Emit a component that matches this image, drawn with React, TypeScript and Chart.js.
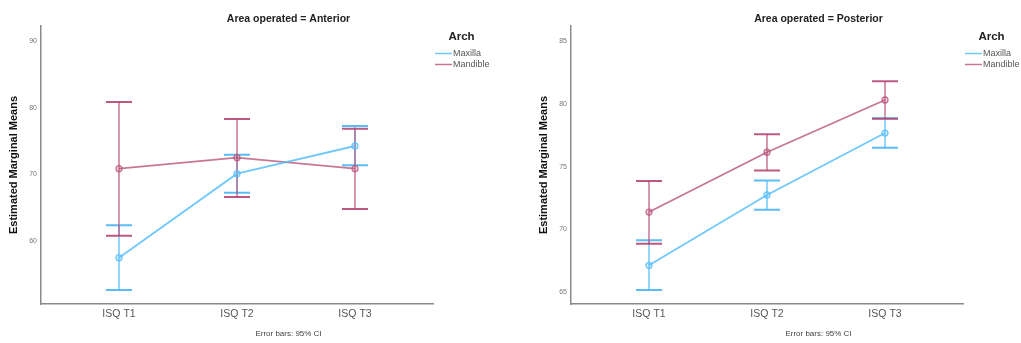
import React, { useEffect, useRef } from "react";
import { Chart, registerables } from "chart.js";

Chart.register(...registerables);

// Repeated-measures time points
const timePoints = ["ISQ T1", "ISQ T2", "ISQ T3"];
const seriesNames = ["Maxilla", "Mandible"];

// Area operated = Anterior
const anteriorMaxillaMean = [57.5, 70.1, 74.25];
const anteriorMaxillaLower = [52.65, 67.25, 71.35];
const anteriorMaxillaUpper = [62.35, 72.95, 77.25];
const anteriorMandibleMean = [70.85, 72.5, 70.85];
const anteriorMandibleLower = [60.8, 66.6, 64.8];
const anteriorMandibleUpper = [80.85, 78.3, 76.85];
const anteriorYTicks = [60, 70, 80, 90];
const anteriorYRange = [50.55, 92.25];

// Area operated = Posterior
const posteriorMaxillaMean = [67.15, 72.75, 77.68];
const posteriorMaxillaLower = [65.18, 71.58, 76.51];
const posteriorMaxillaUpper = [69.14, 73.9, 78.85];
const posteriorMandibleMean = [71.39, 76.15, 80.31];
const posteriorMandibleLower = [68.87, 74.7, 78.82];
const posteriorMandibleUpper = [73.86, 77.58, 81.8];
const posteriorYTicks = [65, 70, 75, 80, 85];
const posteriorYRange = [64.07, 86.2];

const FONT = "Arial, 'Liberation Sans', sans-serif";
const MAXILLA = "rgba(88,190,250,0.85)";
const MAXILLA_CAP = "rgba(80,185,248,0.95)";
const MANDIBLE = "rgba(185,80,120,0.78)";
const MANDIBLE_CAP = "rgba(180,65,110,0.88)";

type PanelProps = {
  title: string;
  width: number;
  plotLeft: number;
  plotRight: number;
  maxilla: number[][];
  mandible: number[][];
  yTicks: number[];
  yRange: number[];
};

function Panel(props: PanelProps) {
  const ref = useRef<HTMLCanvasElement | null>(null);

  useEffect(() => {
    const canvas = ref.current;
    if (!canvas) return;
    const { title, width, plotLeft, plotRight, maxilla, mandible, yTicks, yRange } = props;

    const groups = [
      { mean: maxilla[0], lower: maxilla[1], upper: maxilla[2], line: MAXILLA, cap: MAXILLA_CAP },
      { mean: mandible[0], lower: mandible[1], upper: mandible[2], line: MANDIBLE, cap: MANDIBLE_CAP },
    ];

    // 95% CI whiskers with caps, drawn beneath the mean lines
    const errorBars = {
      id: "errorBars",
      beforeDatasetsDraw(chart: any) {
        const ctx = chart.ctx;
        const xs = chart.scales.x;
        const ys = chart.scales.y;
        ctx.save();
        groups.forEach((g) => {
          g.mean.forEach((_, i) => {
            const x = xs.getPixelForValue(i + 1);
            const yl = ys.getPixelForValue(g.lower[i]);
            const yu = ys.getPixelForValue(g.upper[i]);
            ctx.strokeStyle = g.line;
            ctx.lineWidth = 1.5;
            ctx.beginPath();
            ctx.moveTo(x, yl);
            ctx.lineTo(x, yu);
            ctx.stroke();
            ctx.strokeStyle = g.cap;
            ctx.lineWidth = 2;
            ctx.beginPath();
            ctx.moveTo(x - 13, yl);
            ctx.lineTo(x + 13, yl);
            ctx.moveTo(x - 13, yu);
            ctx.lineTo(x + 13, yu);
            ctx.stroke();
          });
        });
        ctx.restore();
      },
    };

    const annotations = {
      id: "panelText",
      afterDraw(chart: any) {
        const ctx = chart.ctx;
        const a = chart.chartArea;
        ctx.save();
        ctx.textAlign = "center";
        ctx.textBaseline = "middle";
        // Panel title
        ctx.fillStyle = "#222";
        ctx.font = `bold 10.5px ${FONT}`;
        ctx.fillText(title, a.left + 247.5, 19);
        // Footer note
        ctx.fillStyle = "#444";
        ctx.font = `8px ${FONT}`;
        ctx.fillText("Error bars: 95% CI", a.left + 247.5, 334);
        // Y-axis title
        ctx.save();
        ctx.translate(a.left - 27, (a.top + a.bottom) / 2);
        ctx.rotate(-Math.PI / 2);
        ctx.fillStyle = "#111";
        ctx.font = `bold 11px ${FONT}`;
        ctx.fillText("Estimated Marginal Means", 0, 0);
        ctx.restore();
        // Legend
        ctx.fillStyle = "#222";
        ctx.font = `bold 11.5px ${FONT}`;
        ctx.fillText("Arch", a.right + 28.5, 37);
        ctx.textAlign = "left";
        ctx.font = `9px ${FONT}`;
        [MAXILLA, MANDIBLE].forEach((c, i) => {
          const y = 53.5 + i * 11;
          ctx.strokeStyle = c;
          ctx.lineWidth = 1.5;
          ctx.beginPath();
          ctx.moveTo(a.right + 2, y);
          ctx.lineTo(a.right + 19, y);
          ctx.stroke();
          ctx.fillStyle = "#555";
          ctx.fillText(seriesNames[i], a.right + 20, y + 0.5);
        });
        ctx.restore();
      },
    };

    const chart = new Chart(canvas, {
      type: "line",
      data: {
        datasets: groups.map((g, gi) => ({
          label: seriesNames[gi],
          data: g.mean.map((v, i) => ({ x: i + 1, y: v })),
          borderColor: g.line,
          borderWidth: 1.8,
          pointRadius: 3,
          pointBorderWidth: 1.3,
          pointBorderColor: g.line,
          pointBackgroundColor: gi === 0 ? "rgba(88,190,250,0.2)" : "rgba(185,80,120,0.2)",
          tension: 0,
          fill: false,
        })),
      },
      options: {
        animation: false,
        responsive: false,
        devicePixelRatio: 1,
        layout: { padding: { left: 0, top: 26, right: width - plotRight, bottom: 0 } },
        plugins: { legend: { display: false }, tooltip: { enabled: false }, title: { display: false } },
        scales: {
          x: {
            type: "linear",
            min: 1 - 78 / 118,
            max: 3 + 78 / 118,
            afterBuildTicks: (s: any) => {
              s.ticks = timePoints.map((_, i) => ({ value: i + 1 }));
            },
            afterFit: (s: any) => {
              s.height = 39;
            },
            ticks: {
              callback: (v: any) => timePoints[Math.round(Number(v)) - 1] ?? "",
              color: "#555",
              font: { family: FONT, size: 10.5 },
              padding: 4,
              maxRotation: 0,
              autoSkip: false,
            },
            grid: { display: false, drawTicks: false },
            border: { display: true, color: "#8a8a8a", width: 1.5 },
          },
          y: {
            type: "linear",
            min: yRange[0],
            max: yRange[1],
            afterBuildTicks: (s: any) => {
              s.ticks = yTicks.map((v) => ({ value: v }));
            },
            afterFit: (s: any) => {
              s.width = plotLeft;
            },
            ticks: {
              color: "#777",
              font: { family: FONT, size: 7 },
              padding: 4,
            },
            grid: { display: false, drawTicks: false },
            border: { display: true, color: "#8a8a8a", width: 1.5 },
          },
        },
      },
      plugins: [errorBars, annotations],
    } as any);

    return () => chart.destroy();
  }, []);

  return <canvas ref={ref} width={props.width} height={343} style={{ display: "block", width: props.width, height: 343 }} />;
}

export default function App() {
  return (
    <div style={{ position: "absolute", left: 0, top: 0, width: 1021, height: 343, background: "#fff", display: "flex" }}>
      <Panel
        title="Area operated = Anterior"
        width={510}
        plotLeft={41}
        plotRight={433}
        maxilla={[anteriorMaxillaMean, anteriorMaxillaLower, anteriorMaxillaUpper]}
        mandible={[anteriorMandibleMean, anteriorMandibleLower, anteriorMandibleUpper]}
        yTicks={anteriorYTicks}
        yRange={anteriorYRange}
      />
      <Panel
        title="Area operated = Posterior"
        width={511}
        plotLeft={61}
        plotRight={453}
        maxilla={[posteriorMaxillaMean, posteriorMaxillaLower, posteriorMaxillaUpper]}
        mandible={[posteriorMandibleMean, posteriorMandibleLower, posteriorMandibleUpper]}
        yTicks={posteriorYTicks}
        yRange={posteriorYRange}
      />
    </div>
  );
}
